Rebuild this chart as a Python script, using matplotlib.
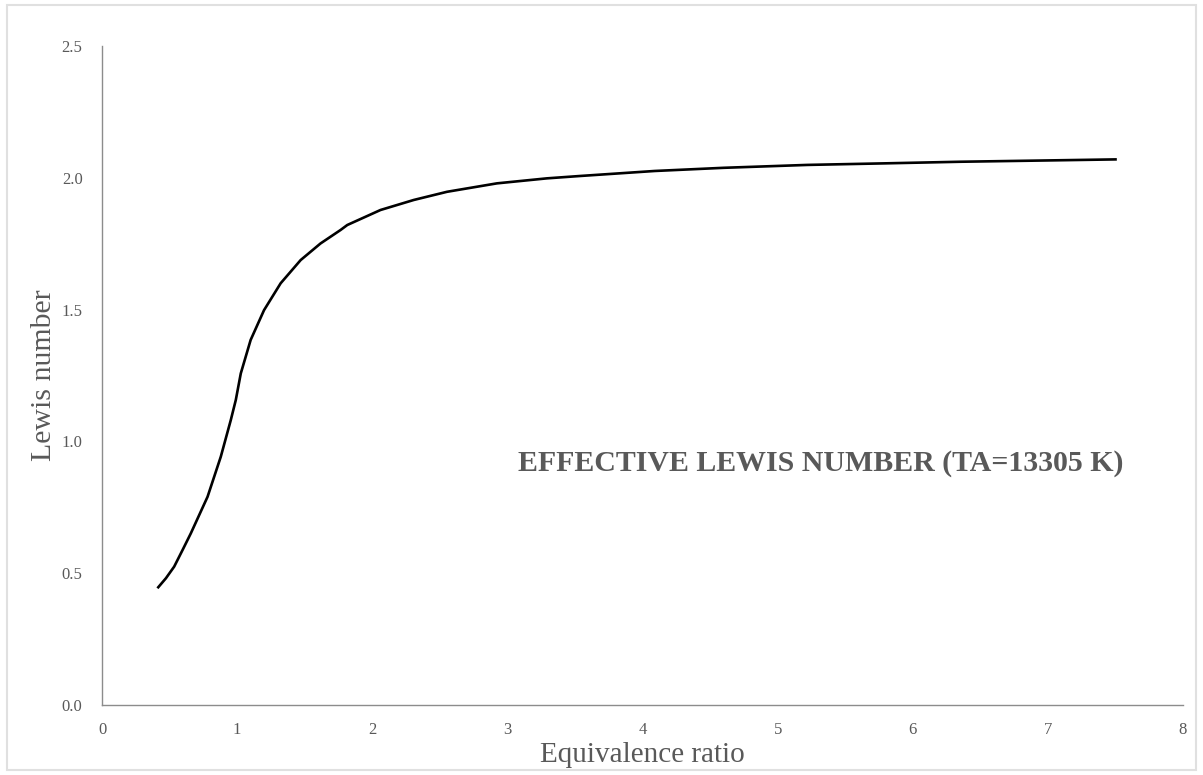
"""Effective Lewis number vs equivalence ratio."""
import matplotlib
matplotlib.use('Agg')
import matplotlib.pyplot as plt
from matplotlib.patches import Rectangle

# Values
phi = [0.41, 0.473, 0.534, 0.596, 0.657, 0.781, 0.879, 0.953, 0.990, 1.027,
       1.100, 1.199, 1.322, 1.470, 1.617, 1.765, 1.815, 2.061, 2.307, 2.553,
       2.922, 3.292, 3.538, 4.09, 4.60, 5.22, 5.80, 6.35, 7.00, 7.51]
lewis = [0.443, 0.481, 0.525, 0.588, 0.651, 0.790, 0.942, 1.081, 1.157, 1.258,
         1.385, 1.498, 1.600, 1.688, 1.751, 1.802, 1.821, 1.878, 1.916, 1.947,
         1.979, 1.998, 2.007, 2.026, 2.038, 2.049, 2.055, 2.061, 2.066, 2.070]
x_ticks = [0, 1, 2, 3, 4, 5, 6, 7, 8]
y_ticks = [0.0, 0.5, 1.0, 1.5, 2.0, 2.5]

plt.rcParams['font.family'] = ['Liberation Serif', 'DejaVu Serif']
grey = '#595959'

fig = plt.figure(figsize=(12.03, 7.75), dpi=100)
ax = fig.add_axes([0.0848, 0.0903, 0.8986, 0.8503])

ax.plot(phi, lewis, '-', color='black', linewidth=1.9,
        solid_joinstyle='round', solid_capstyle='butt')

ax.set_xlim(0, 8)
ax.set_ylim(0, 2.5)
ax.set_xticks(x_ticks)
ax.set_yticks(y_ticks)
ax.set_yticklabels([f'{v:.1f}' for v in y_ticks])
ax.tick_params(length=0, labelsize=12, colors=grey)
ax.tick_params(axis='x', pad=12)
ax.tick_params(axis='y', pad=14)

for side in ('top', 'right'):
    ax.spines[side].set_visible(False)
for side in ('left', 'bottom'):
    ax.spines[side].set_color('#8c8c8c')
    ax.spines[side].set_linewidth(1.0)

ax.set_xlabel('Equivalence ratio', fontsize=21, color=grey, labelpad=3)
ax.set_ylabel('Lewis number', fontsize=21.5, color=grey, labelpad=3)

ax.text(3.08, 0.918, 'EFFECTIVE LEWIS NUMBER (TA=13305 K)', fontsize=21.5,
        fontweight='bold', color=grey, ha='left', va='center')

# thin frame round the whole picture
fig.patches.append(Rectangle((0.006, 0.006), 0.988, 0.988, transform=fig.transFigure,
                             fill=False, edgecolor='#e0e0e0', linewidth=1.5))

plt.savefig('out.png', dpi=100)
